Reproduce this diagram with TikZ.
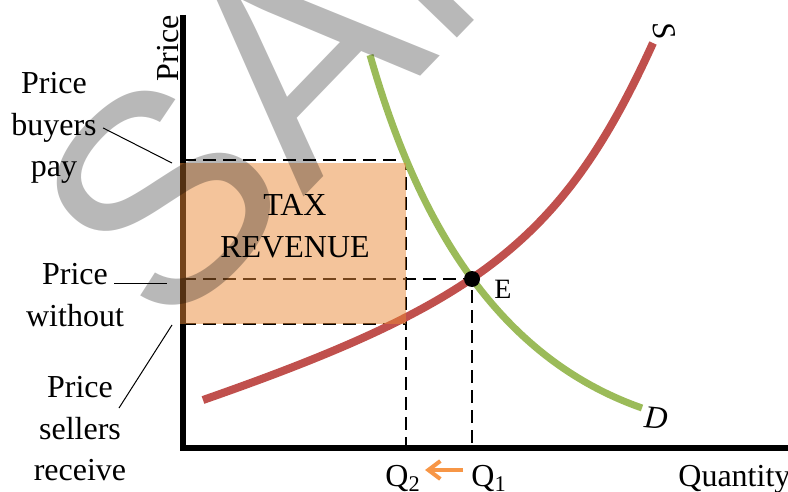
\documentclass[tikz,border=0pt]{standalone}
\usepackage{fontspec}
\setmainfont{Liberation Serif}
\newfontfamily\wmfont{Liberation Sans}
\usetikzlibrary{arrows.meta}
\definecolor{supplyred}{RGB}{192,80,77}
\definecolor{demandgreen}{RGB}{155,187,89}
\definecolor{taxorange}{RGB}{233,137,55}
\definecolor{shiftorange}{RGB}{247,150,70}
\tikzset{
  axisline/.style={line width=3.3pt},
  guide/.style={line width=1pt, dash pattern=on 6.5pt off 3.5pt},
  leader/.style={line width=0.5pt},
  curve/.style={line width=4pt},
  lbl/.style={font=\fontsize{16}{20.75}\selectfont, inner sep=0pt, align=center},
  small/.style={font=\fontsize{14}{16}\selectfont, inner sep=0pt},
  curvelbl/.style={font=\itshape\fontsize{16}{18}\selectfont, inner sep=0pt},
}
\begin{document}
\begin{tikzpicture}[x=0.5pt, y=-0.5pt, >={Straight Barb[length=6pt,width=9pt]}]
  \useasboundingbox (0,0) rectangle (788,492);
  % axes
  \draw[axisline] (183,15) -- (183,448) -- (788,448);
  \node[lbl, rotate=90, anchor=base east] (ylabel) at (178,15) {Price};
  \node[lbl, anchor=base west] (xlabel) at (678,486) {Quantity};
  % guide lines
  \coordinate (E) at (472,279);
  \coordinate (pb) at (183,160);
  \coordinate (pe) at (183,279);
  \coordinate (ps) at (183,324);
  \coordinate (tb) at (406,160);
  \coordinate (ts) at (406,324);
  \coordinate (q2) at (406,448);
  \coordinate (q1) at (472,448);
  \draw[guide] (pb) -- (tb) -- (q2);
  \draw[guide] (pe) -- (E) -- (q1);
  \draw[guide] (ps) -- (ts);
  % supply and demand
  \draw[curve, supplyred] (203,400) .. controls (478,304) and (563,241) .. (653,43);
  \draw[curve, demandgreen, line width=3.5pt] (370,55) .. controls (410,195) and (482,352) .. (642,408);
  \node[curvelbl, rotate=-80] (slbl) at (664,31) {S};
  \node[curvelbl, rotate=-5] (dlbl) at (656,418) {D};
  % tax revenue
  \fill[taxorange, opacity=.5] (180,163) rectangle (ts);
  \node[lbl] (tax) at (295,226) {TAX\\REVENUE};
  \fill (E) circle (8);
  \node[small, anchor=base west] (elbl) at (494,299) {E};
  % quantities
  \node[lbl, anchor=base west] (q2lbl) at (385,486) {Q\textsubscript{2}};
  \node[lbl, anchor=base west] (q1lbl) at (471,486) {Q\textsubscript{1}};
  \coordinate (shiftfrom) at (463,470);
  \coordinate (shiftto) at (425,470);
  \draw[->, shiftorange, line width=2pt] (shiftfrom) -- (shiftto);
  % price labels
  \node[lbl, anchor=north] (buyers) at (54,72) {Price\\buyers\\pay};
  \node[lbl, anchor=north] (without) at (75,263) {Price\\without};
  \node[lbl, anchor=north] (sellers) at (80,376) {Price\\sellers\\receive};
  \coordinate (buyersend) at (172,163);
  \coordinate (withoutstart) at (114,283);
  \coordinate (withoutend) at (167,283);
  \coordinate (sellersstart) at (119,408);
  \coordinate (sellersend) at (172,325);
  \draw[leader] ([xshift=3pt]buyers.east) -- (buyersend);
  \draw[leader] (withoutstart) -- (withoutend);
  \draw[leader] (sellersstart) -- (sellersend);
  % watermark
  \node[font=\wmfont\fontsize{148}{148}\selectfont, text=black, text opacity=.28,
        rotate=46, anchor=base west, inner sep=0pt] (wm) at (166,340) {SAMPLE};
\end{tikzpicture}
\end{document}
